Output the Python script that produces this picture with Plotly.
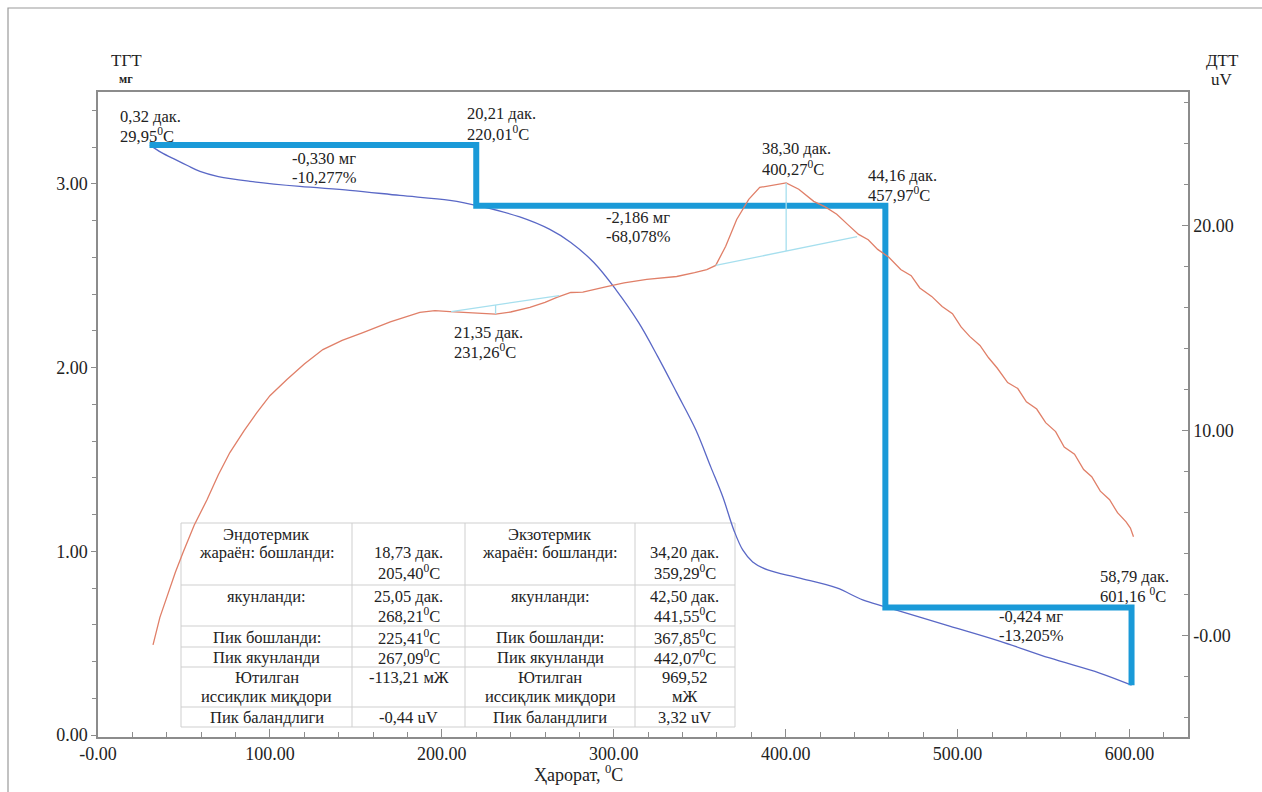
import plotly.graph_objects as go

# ---------------- data ----------------
# TG curve: temperature (°C) vs mass (mg)
tg_temp = [30.2, 37.0, 44.8, 52.0, 59.3, 70.0, 88.4, 117.4, 146.5, 175.6, 204.7, 222.7,
           245.3, 262.8, 275.0, 288.4, 301.2, 314.5, 325.6, 336.6, 347.7, 356.4, 363.4,
           369.8, 375.0, 380.8, 389.5, 407.6, 429.7, 444.8, 458.1, 495.3, 524.4, 553.5,
           582.6, 601.2]
tg_mass = [3.211, 3.17, 3.133, 3.10, 3.068, 3.04, 3.014, 2.986, 2.965, 2.937, 2.910, 2.877,
           2.820, 2.752, 2.681, 2.572, 2.425, 2.245, 2.060, 1.864, 1.662, 1.460, 1.297,
           1.117, 1.008, 0.943, 0.899, 0.856, 0.801, 0.736, 0.698, 0.594, 0.512, 0.420,
           0.338, 0.272]

# DTA curve: temperature (°C) vs signal (uV)
dta_temp = [32.0, 36.0, 40.1, 45.0, 49.4, 56.0, 63.4, 70.0, 76.7, 85.0, 92.4, 100.0, 109.9,
            120.0, 130.8, 142.0, 154.1, 170.0, 187.2, 196.0, 204.7, 212.2, 220.0, 231.26,
            240.0, 251.2, 260.0, 266.9, 275.0, 282.0, 295.9, 306.0, 319.2, 336.6, 347.0,
            354.1, 359.3, 365.1, 371.5, 378.5, 384.9, 391.9, 395.0, 400.27, 407.6, 416.3,
            423.0, 429.7, 436.0, 442.4, 448.0, 453.5, 460.0, 466.9, 473.0, 478.0, 484.9,
            491.0, 497.0, 502.0, 507.0, 513.0, 518.0, 523.0, 529.1, 535.0, 540.0, 546.0,
            551.2, 557.0, 562.0, 568.0, 573.3, 578.0, 583.0, 588.4, 593.0, 598.0, 600.5,
            602.3]
dta_uv = [-0.44, 0.90, 1.90, 3.10, 4.05, 5.40, 6.63, 7.85, 8.93, 10.00, 10.88, 11.70, 12.49,
          13.25, 13.95, 14.40, 14.78, 15.30, 15.76, 15.85, 15.80, 15.76, 15.72, 15.68,
          15.78, 16.00, 16.25, 16.49, 16.73, 16.75, 17.02, 17.20, 17.37, 17.51, 17.70,
          17.85, 18.05, 18.98, 20.29, 21.27, 21.85, 21.95, 22.00, 22.07, 21.76, 21.17,
          20.90, 20.54, 20.05, 19.56, 19.30, 18.83, 18.45, 17.85, 17.55, 16.95, 16.54,
          16.05, 15.70, 15.05, 14.59, 14.15, 13.55, 13.05, 12.34, 12.05, 11.40, 11.05,
          10.39, 9.95, 9.20, 8.85, 8.10, 7.75, 7.05, 6.63, 6.00, 5.55, 5.25, 4.83]

# DTA peak baselines (onset/offset temperatures from the results table)
endo_base_temp = [205.40, 268.21]
endo_base_uv = [15.80, 16.58]
endo_peak_temp = [231.26, 231.26]
endo_peak_uv = [15.68, 16.12]

exo_base_temp = [359.29, 441.55]
exo_base_uv = [18.05, 19.45]
exo_peak_temp = [400.27, 400.27]
exo_peak_uv = [18.75, 22.07]

# Mass-loss steps
step_temp = [29.95, 220.01, 220.01, 457.97, 457.97, 601.16, 601.16]
step_mass = [3.211, 3.211, 2.881, 2.881, 0.695, 0.695, 0.271]

# Axis ticks
x_tick_vals = [0, 100, 200, 300, 400, 500, 600]
x_tick_text = ["-0.00", "100.00", "200.00", "300.00", "400.00", "500.00", "600.00"]
y_tick_vals = [0, 1, 2, 3]
y_tick_text = ["0.00", "1.00", "2.00", "3.00"]
y2_tick_vals = [0, 10, 20]
y2_tick_text = ["-0.00", "10.00", "20.00"]

DEG = "<sup>0</sup>C"

# Point / step labels: (left px, first-line px, lines)
point_labels = [
    (118, 116, ["0,32 дак.", "29,95" + DEG]),
    (465, 114, ["20,21 дак.", "220,01" + DEG]),
    (290, 158, ["-0,330 мг", "-10,277%"]),
    (760, 149, ["38,30 дак.", "400,27" + DEG]),
    (866, 175, ["44,16 дак.", "457,97" + DEG]),
    (604, 217, ["-2,186 мг", "-68,078%"]),
    (452, 332, ["21,35 дак.", "231,26" + DEG]),
    (1098, 576, ["58,79 дак.", "601,16 " + DEG]),
    (997, 616, ["-0,424 мг", "-13,205%"]),
]

# Results table
row_line_y = [[534, 552, 572], [596, 615], [637], [657], [677, 696], [717]]
endo_labels = [["Эндотермик", "жараён: бошланди:"], ["якунланди:"], ["Пик бошланди:"],
               ["Пик якунланди"], ["Ютилган", "иссиқлик миқдори"], ["Пик баландлиги"]]
endo_values = [["", "18,73 дак.", "205,40" + DEG], ["25,05 дак.", "268,21" + DEG],
               ["225,41" + DEG], ["267,09" + DEG], ["-113,21 мЖ"], ["-0,44 uV"]]
exo_labels = [["Экзотермик", "жараён: бошланди:"], ["якунланди:"], ["Пик бошланди:"],
              ["Пик якунланди"], ["Ютилган", "иссиқлик миқдори"], ["Пик баландлиги"]]
exo_values = [["", "34,20 дак.", "359,29" + DEG], ["42,50 дак.", "441,55" + DEG],
              ["367,85" + DEG], ["442,07" + DEG], ["969,52", "мЖ"], ["3,32 uV"]]

# ---------------- layout helpers ----------------
W, H = 1262, 792
PL, PR, PT, PB = 98, 1188, 92, 737
FONT = "Liberation Serif, DejaVu Serif, serif"
TXT = "#222222"
AXC = "#8c8c8c"
FS = 16.5
LINE = 19.5


def fx(px):
    return (px - PL) / (PR - PL)


def fy(py):
    return (PB - py) / (PB - PT)


fig = go.Figure()

fig.add_trace(go.Scatter(x=dta_temp, y=dta_uv, yaxis="y2", mode="lines",
                         line=dict(color="#e07f68", width=1.3), hoverinfo="skip"))
fig.add_trace(go.Scatter(x=tg_temp, y=tg_mass, mode="lines", line_shape="spline",
                         line=dict(color="#5a68c6", width=1.3), hoverinfo="skip"))
for bx, by in [(endo_base_temp, endo_base_uv), (endo_peak_temp, endo_peak_uv),
               (exo_base_temp, exo_base_uv), (exo_peak_temp, exo_peak_uv)]:
    fig.add_trace(go.Scatter(x=bx, y=by, yaxis="y2", mode="lines",
                             line=dict(color="#a6dfee", width=1.3), hoverinfo="skip"))
fig.add_trace(go.Scatter(x=step_temp, y=step_mass, mode="lines",
                         line=dict(color="#1a9ad8", width=6), hoverinfo="skip"))

annotations = []


def label(px, py, text, size=FS, anchor="left"):
    annotations.append(dict(xref="paper", yref="paper", x=fx(px), y=fy(py), text=text,
                            showarrow=False, xanchor=anchor, yanchor="middle", align=anchor,
                            font=dict(family=FONT, size=size, color=TXT)))


for px, py, lines in point_labels:
    for k, t in enumerate(lines):
        label(px, py + k * LINE, t)

# Axis captions
label(126, 60, "ТГТ", size=17, anchor="center")
label(126, 79, "<b>мг</b>", size=12, anchor="center")
label(1222, 60, "ДТТ", size=17, anchor="center")
label(1222, 79, "uV", size=17, anchor="center")
label(578, 773, "Ҳарорат, " + DEG, size=18, anchor="center")

# Table text
col_x = [181, 352, 465, 635, 735]
col_c = [(col_x[i] + col_x[i + 1]) / 2 for i in range(4)]
for r, ys in enumerate(row_line_y):
    for col, cells in enumerate([endo_labels, endo_values, exo_labels, exo_values]):
        for k, t in enumerate(cells[r]):
            if t:
                label(col_c[col], ys[k], t, size=16.5, anchor="center")

shapes = []
row_y = [523, 585, 626, 647, 667, 707, 727]
TBL = "#cfcfcf"
for yy in row_y:
    shapes.append(dict(type="line", xref="paper", yref="paper", x0=fx(col_x[0]), x1=fx(col_x[-1]),
                       y0=fy(yy), y1=fy(yy), line=dict(color=TBL, width=1), layer="below"))
for xx in col_x:
    shapes.append(dict(type="line", xref="paper", yref="paper", x0=fx(xx), x1=fx(xx),
                       y0=fy(row_y[0]), y1=fy(row_y[-1]), line=dict(color=TBL, width=1), layer="below"))
# outer frame
shapes.append(dict(type="rect", xref="paper", yref="paper", x0=fx(8), x1=fx(W + 20),
                   y0=fy(H + 20), y1=fy(8), line=dict(color="#9a9a9a", width=1.2)))

fig.update_layout(
    width=W, height=H,
    margin=dict(l=PL, r=W - PR, t=PT, b=H - PB),
    paper_bgcolor="white", plot_bgcolor="rgba(0,0,0,0)",
    showlegend=False,
    font=dict(family=FONT, size=FS, color=TXT),
    annotations=annotations, shapes=shapes,
    xaxis=dict(range=[0, 634], tickvals=x_tick_vals, ticktext=x_tick_text,
               ticks="inside", ticklen=8, tickcolor=AXC, showgrid=False, zeroline=False,
               showline=True, linecolor=AXC, linewidth=1.5, mirror=True,
               minor=dict(dtick=20, tick0=0, ticks="inside", ticklen=5, tickcolor=AXC),
               tickfont=dict(family=FONT, size=18, color=TXT)),
    yaxis=dict(range=[-0.01, 3.5], tickvals=y_tick_vals, ticktext=y_tick_text,
               ticks="outside", ticklen=5, tickcolor=AXC, showgrid=False, zeroline=False,
               showline=True, linecolor=AXC, linewidth=1.5,
               minor=dict(dtick=0.2, tick0=0, ticks="outside", ticklen=4, tickcolor=AXC),
               tickfont=dict(family=FONT, size=18, color=TXT)),
    yaxis2=dict(range=[-4.93, 26.5], overlaying="y", side="right",
                tickvals=y2_tick_vals, ticktext=y2_tick_text,
                ticks="inside", ticklen=6, tickcolor=AXC, showgrid=False, zeroline=False,
                showline=True, linecolor=AXC, linewidth=1.5,
                minor=dict(dtick=2, tick0=0, ticks="inside", ticklen=4, tickcolor=AXC),
                tickfont=dict(family=FONT, size=18, color=TXT)),
)

fig.write_html("out.html")
